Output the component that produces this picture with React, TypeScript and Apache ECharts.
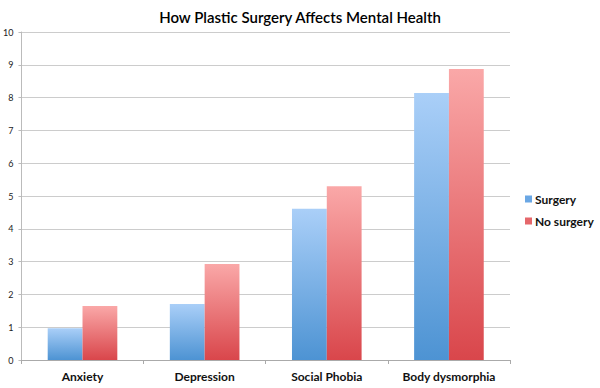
import React, { useEffect, useRef } from "react";
import * as echarts from "echarts";

const categories = ["Anxiety", "Depression", "Social Phobia", "Body dysmorphia"];
const surgery = [0.97, 1.71, 4.61, 8.14];
const noSurgery = [1.65, 2.93, 5.3, 8.87];
const seriesNames = ["Surgery", "No surgery"];

const font = "Lato, 'Open Sans', sans-serif";

export default function App() {
  const ref = useRef<HTMLDivElement>(null);
  useEffect(() => {
    const chart = echarts.init(ref.current!, null, { renderer: "svg" });
    const blue = new echarts.graphic.LinearGradient(0, 0, 0, 1, [
      { offset: 0, color: "#aacff8" },
      { offset: 1, color: "#4d93d3" },
    ]);
    const red = new echarts.graphic.LinearGradient(0, 0, 0, 1, [
      { offset: 0, color: "#faa8a8" },
      { offset: 1, color: "#d9464b" },
    ]);
    chart.setOption({
      animation: false,
      backgroundColor: "#ffffff",
      title: {
        text: "How Plastic Surgery Affects Mental Health",
        left: "center",
        top: 4,
        textStyle: { fontFamily: font, fontSize: 15, fontWeight: 600, color: "#000" },
      },
      legend: {
        orient: "vertical",
        left: 520,
        top: 188,
        itemWidth: 7,
        itemHeight: 7,
        itemGap: 10,
        icon: "rect",
        data: [
          { name: seriesNames[0], itemStyle: { color: "#6aa7e4" } },
          { name: seriesNames[1], itemStyle: { color: "#e5676b" } },
        ],
        textStyle: { fontFamily: font, fontSize: 12, fontWeight: "bold", color: "#111", padding: [0, 0, 0, -2] },
      },
      grid: { left: 21, right: 90, top: 32, bottom: 28 },
      xAxis: {
        type: "category",
        data: categories,
        axisLine: { lineStyle: { color: "#aaaaaa" } },
        axisTick: { show: true, length: 4, lineStyle: { color: "#aaaaaa" } },
        axisLabel: { fontFamily: font, fontSize: 12, fontWeight: "bold", color: "#111", margin: 10 },
      },
      yAxis: {
        type: "value",
        min: 0,
        max: 10,
        interval: 1,
        axisLine: { show: true, lineStyle: { color: "#bbbbbb" } },
        axisTick: { show: true, length: 3, lineStyle: { color: "#bbbbbb" } },
        splitLine: { lineStyle: { color: "#cccccc" } },
        axisLabel: { fontFamily: font, fontSize: 9, color: "#222", margin: 8 },
      },
      series: [
        {
          name: seriesNames[0],
          type: "bar",
          data: surgery,
          barGap: "0%",
          barCategoryGap: "43%",
          itemStyle: { color: blue },
        },
        {
          name: seriesNames[1],
          type: "bar",
          data: noSurgery,
          itemStyle: { color: red },
        },
      ],
    });
    return () => chart.dispose();
  }, []);
  return <div ref={ref} style={{ width: 600, height: 388, position: "fixed", left: 0, top: 0 }} />;
}
